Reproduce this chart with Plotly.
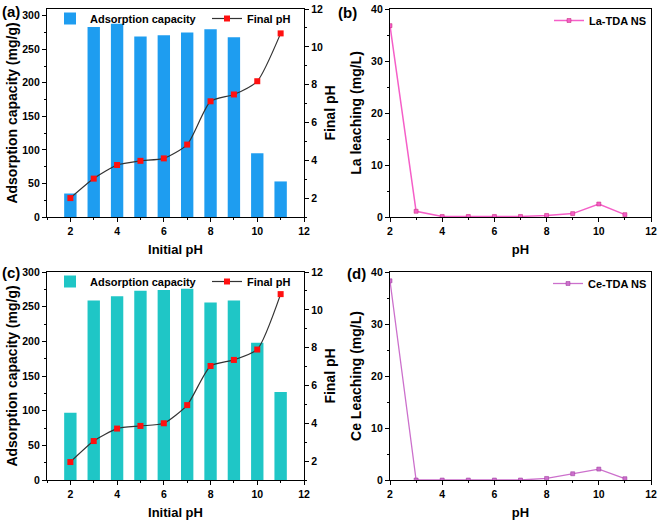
import plotly.graph_objects as go

ph = [2, 3, 4, 5, 6, 7, 8, 9, 10, 11]
cap_la = [35, 283, 288, 269, 271, 275, 280, 268, 95, 53]
final_ph_la = [2.0, 3.03, 3.75, 3.97, 4.1, 4.83, 7.12, 7.48, 8.18, 10.71]
cap_ce = [97, 259, 265, 273, 274, 276, 256, 259, 198, 127]
final_ph_ce = [1.95, 3.06, 3.72, 3.86, 4.0, 4.96, 7.03, 7.35, 7.9, 10.83]
la_leach = [36.8, 1.1, 0.1, 0.1, 0.1, 0.1, 0.3, 0.65, 2.5, 0.45]
ce_leach = [38.3, 0.0, 0.0, 0.0, 0.0, 0.0, 0.3, 1.2, 2.1, 0.25]

FONT = "Liberation Sans"
W, H = 661, 525

def px(x):
    return x / W

def py(y):
    return 1 - y / H

fig = go.Figure()

# (a)
fig.add_trace(go.Bar(x=ph, y=cap_la, width=0.53, marker=dict(color="#1E9DF0", line=dict(width=0)),
                     name="Adsorption capacity", xaxis="x", yaxis="y", legend="legend"))
fig.add_trace(go.Scatter(x=ph, y=final_ph_la, mode="lines+markers", name="Final pH",
                         line=dict(color="#333333", width=1.2, shape="spline", smoothing=0.6),
                         marker=dict(symbol="square", size=6, color="#FF1010"),
                         xaxis="x", yaxis="y2", legend="legend"))
# (b)
fig.add_trace(go.Scatter(x=ph, y=la_leach, mode="lines+markers", name="La-TDA NS",
                         line=dict(color="#F55FC8", width=1.5),
                         marker=dict(symbol="square", size=4, color="#F55FC8", line=dict(color="#C02070", width=0.5)),
                         xaxis="x3", yaxis="y3", legend="legend2"))
# (c)
fig.add_trace(go.Bar(x=ph, y=cap_ce, width=0.53, marker=dict(color="#1FC6C6", line=dict(width=0)),
                     name="Adsorption capacity", xaxis="x4", yaxis="y4", legend="legend3"))
fig.add_trace(go.Scatter(x=ph, y=final_ph_ce, mode="lines+markers", name="Final pH",
                         line=dict(color="#333333", width=1.2, shape="spline", smoothing=0.6),
                         marker=dict(symbol="square", size=6, color="#FF1010"),
                         xaxis="x4", yaxis="y5", legend="legend3"))
# (d)
fig.add_trace(go.Scatter(x=ph, y=ce_leach, mode="lines+markers", name="Ce-TDA NS",
                         line=dict(color="#CC70CC", width=1.3),
                         marker=dict(symbol="square", size=4, color="#CC70CC", line=dict(color="#993399", width=0.5)),
                         xaxis="x6", yaxis="y6", legend="legend4"))

tickfont = dict(family=FONT, size=10.5, color="black", weight="bold")
titlefont = dict(family=FONT, size=13, color="black", weight="bold")
ytitlefont = dict(family=FONT, size=14, color="black", weight="bold")

def ax(**kw):
    d = dict(showline=True, linecolor="black", linewidth=1.3, ticks="outside", ticklen=4,
             tickwidth=1.2, tickcolor="black", showgrid=False, zeroline=False, automargin=False,
             tickfont=tickfont, minor=dict(ticks="outside", ticklen=2, tickwidth=1, tickcolor="black"))
    d.update(kw)
    return d

xa_dom = [px(47), px(304)]
xb_dom = [px(390), px(651)]
top_dom = [py(217), py(9)]
bot_dom = [py(480), py(272)]

legfont = dict(family=FONT, size=11, color="black", weight="bold")
lab = dict(family=FONT, size=15, color="black", weight="bold")

layout = dict(
    width=W, height=H, margin=dict(l=0, r=0, t=0, b=0, autoexpand=False),
    paper_bgcolor="white", plot_bgcolor="white", showlegend=True,
    xaxis=ax(domain=xa_dom, range=[1, 12], dtick=2, anchor="y", mirror=True,
             title=dict(text="Initial pH", font=titlefont, standoff=9), minor_dtick=1),
    yaxis=ax(domain=top_dom, range=[0, 310], dtick=50, anchor="x",
             title=dict(text="Adsorption capacity (mg/g)", font=ytitlefont, standoff=1), minor_dtick=25),
    yaxis2=ax(domain=top_dom, range=[1, 12], tickvals=[2, 4, 6, 8, 10, 12], overlaying="y", side="right",
              anchor="x", title=dict(text="Final pH", font=ytitlefont, standoff=3),
              minor=dict(tickvals=[1, 3, 5, 7, 9, 11], ticks="outside", ticklen=2, tickcolor="black")),
    xaxis3=ax(domain=xb_dom, range=[2, 12], dtick=2, anchor="y3", mirror=True,
              title=dict(text="pH", font=titlefont, standoff=9), minor_dtick=1),
    yaxis3=ax(domain=top_dom, range=[0, 40], dtick=10, anchor="x3", mirror=True,
              title=dict(text="La leaching (mg/L)", font=ytitlefont, standoff=6), minor_dtick=5),
    xaxis4=ax(domain=xa_dom, range=[1, 12], dtick=2, anchor="y4", mirror=True,
              title=dict(text="Initial pH", font=titlefont, standoff=9), minor_dtick=1),
    yaxis4=ax(domain=bot_dom, range=[0, 300], dtick=50, anchor="x4",
              title=dict(text="Adsorption capacity (mg/g)", font=ytitlefont, standoff=1), minor_dtick=25),
    yaxis5=ax(domain=bot_dom, range=[1, 12], tickvals=[2, 4, 6, 8, 10, 12], overlaying="y4", side="right",
              anchor="x4", title=dict(text="Final pH", font=ytitlefont, standoff=3),
              minor=dict(tickvals=[1, 3, 5, 7, 9, 11], ticks="outside", ticklen=2, tickcolor="black")),
    xaxis6=ax(domain=xb_dom, range=[2, 12], dtick=2, anchor="y6", mirror=True,
              title=dict(text="pH", font=titlefont, standoff=9), minor_dtick=1),
    yaxis6=ax(domain=bot_dom, range=[0, 40], dtick=10, anchor="x6", mirror=True,
              title=dict(text="Ce Leaching (mg/L)", font=ytitlefont, standoff=6), minor_dtick=5),
    legend=dict(orientation="h", x=px(50), y=py(4), xanchor="left", yanchor="top",
                bgcolor="rgba(0,0,0,0)", font=legfont, entrywidth=112, tracegroupgap=0),
    legend2=dict(x=px(652), y=py(6), xanchor="right", yanchor="top", bgcolor="rgba(0,0,0,0)", font=legfont),
    legend3=dict(orientation="h", x=px(50), y=py(267), xanchor="left", yanchor="top",
                 bgcolor="rgba(0,0,0,0)", font=legfont, entrywidth=112, tracegroupgap=0),
    legend4=dict(x=px(652), y=py(269), xanchor="right", yanchor="top", bgcolor="rgba(0,0,0,0)", font=legfont),
    annotations=[
        dict(text="(a)", x=0, y=py(1), xref="paper", yref="paper", xanchor="left", yanchor="top",
             showarrow=False, font=lab),
        dict(text="(b)", x=px(336), y=py(2), xref="paper", yref="paper", xanchor="left", yanchor="top",
             showarrow=False, font=lab),
        dict(text="(c)", x=0, y=py(262), xref="paper", yref="paper", xanchor="left", yanchor="top",
             showarrow=False, font=lab),
        dict(text="(d)", x=px(345), y=py(263), xref="paper", yref="paper", xanchor="left", yanchor="top",
             showarrow=False, font=lab),
    ],
)
fig.update_layout(**layout)
fig.write_html("out.html", config={"displayModeBar": False},
               post_script="document.body.style.margin='0';")
